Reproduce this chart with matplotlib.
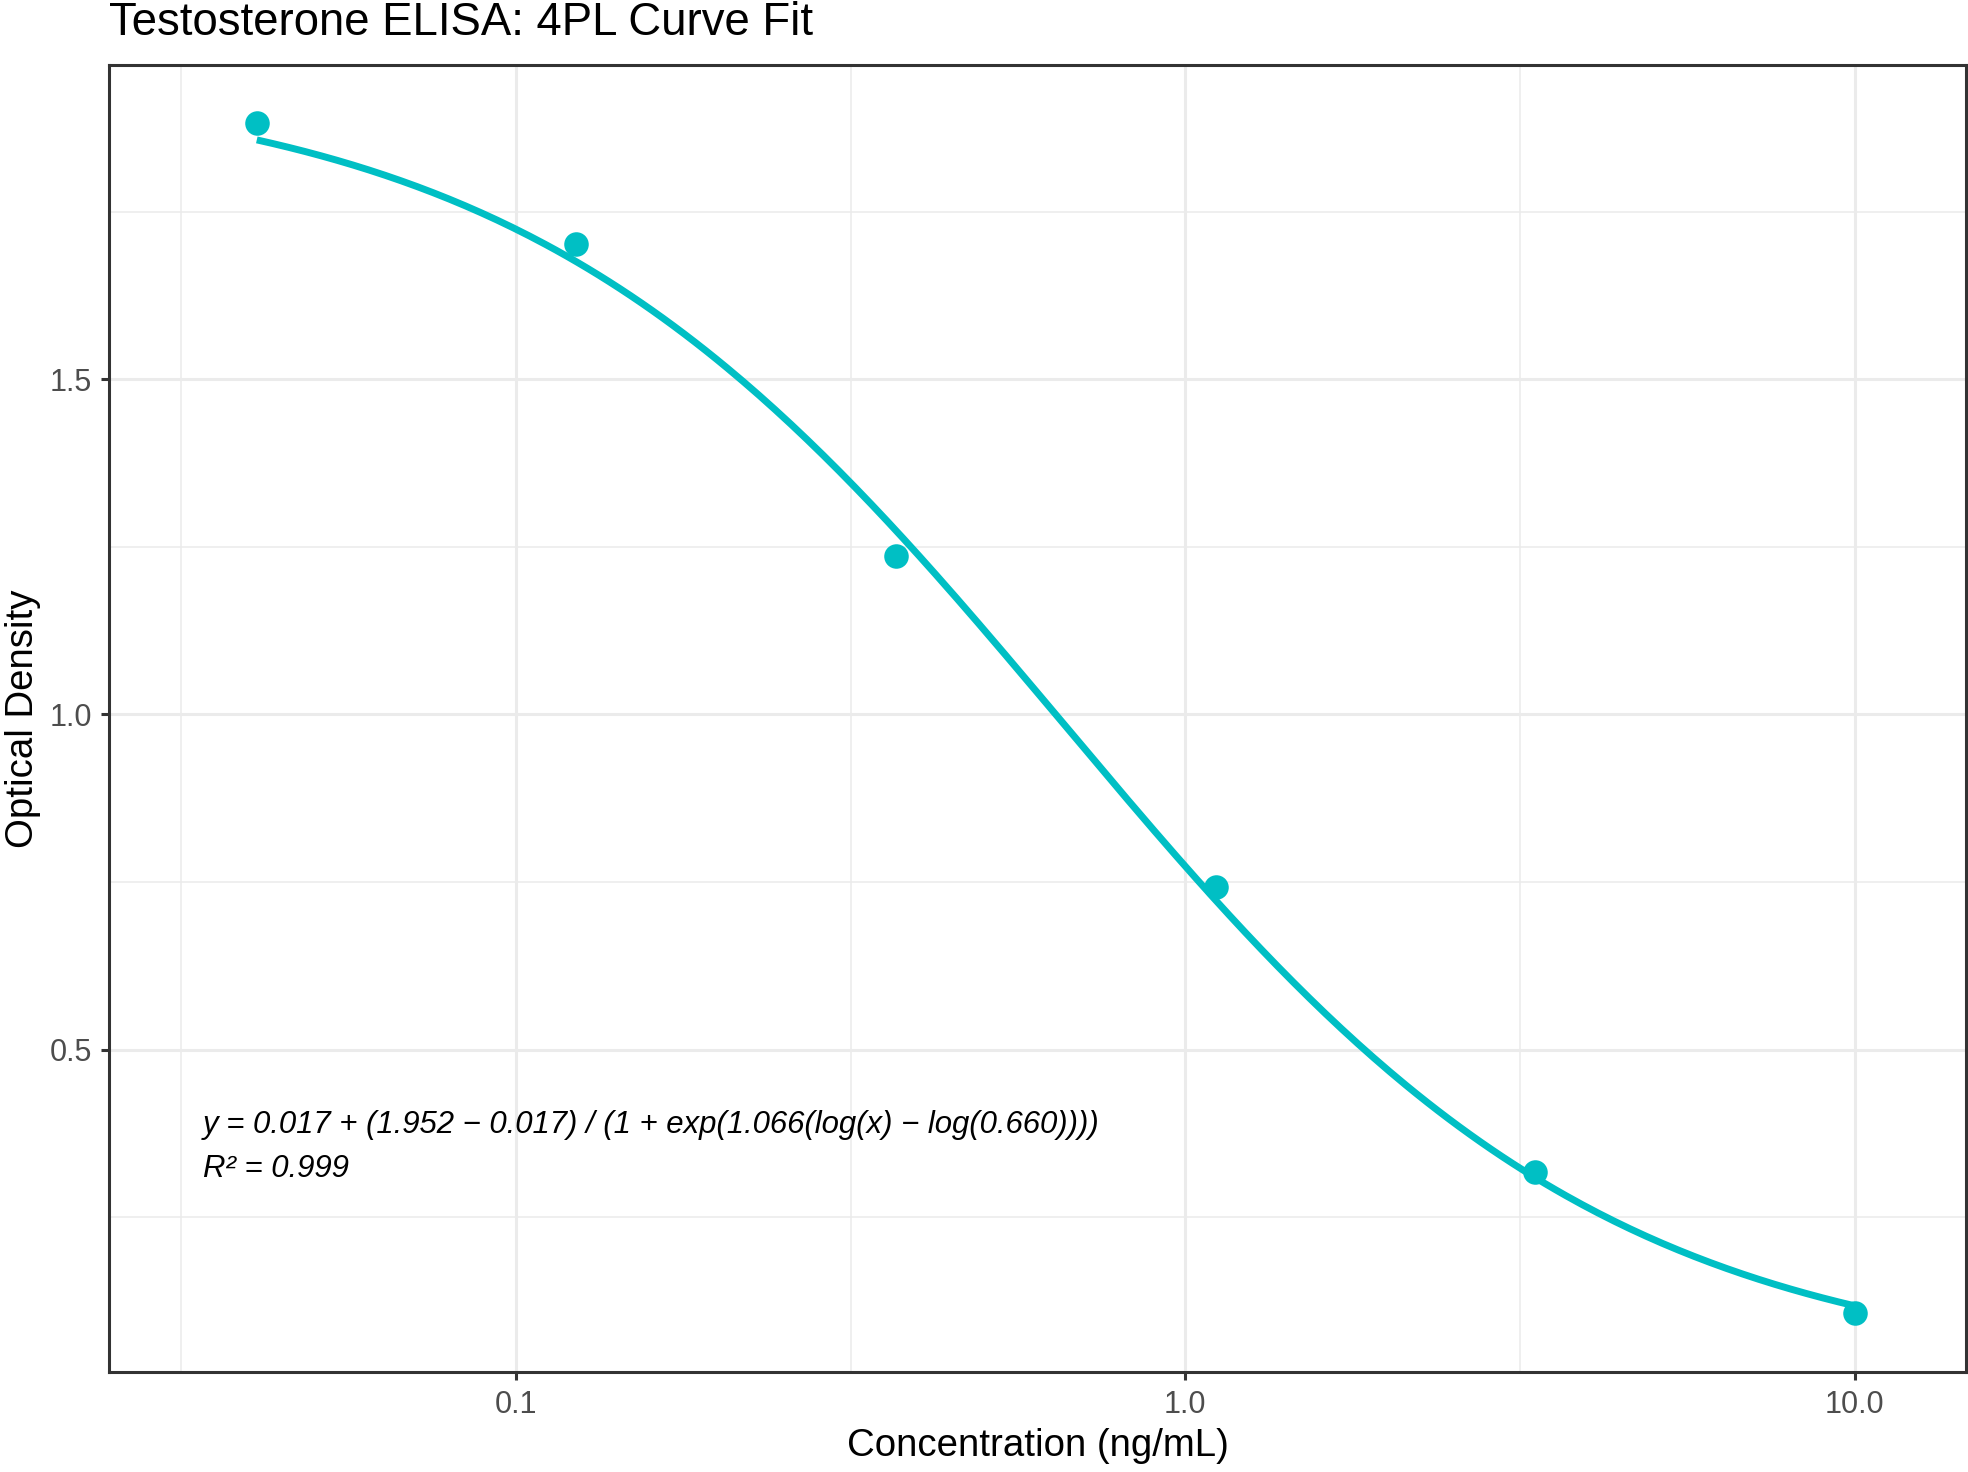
import numpy as np
import matplotlib
matplotlib.use("Agg")
import matplotlib.pyplot as plt

plt.rcParams['font.family'] = ['Liberation Sans', 'DejaVu Sans']

# Standards
concentration = [0.041, 0.123, 0.370, 1.111, 3.333, 10.0]
optical_density = [1.882, 1.702, 1.236, 0.742, 0.318, 0.107]

# 4PL fit parameters as printed in the chart annotation
fit_bottom = 0.017
fit_top = 1.952
fit_slope = 1.066
fit_ec50 = 0.660
r_squared = 0.999

title = "Testosterone ELISA: 4PL Curve Fit"
xlabel = "Concentration (ng/mL)"
ylabel = "Optical Density"
xticks = [0.1, 1.0, 10.0]
xticklabels = ["0.1", "1.0", "10.0"]
yticks = [0.5, 1.0, 1.5]
yticklabels = ["0.5", "1.0", "1.5"]

color = "#00BFC4"

fig = plt.figure(figsize=(9.84, 7.36), dpi=200)
ax = fig.add_axes([0.0554, 0.0676, 0.999 - 0.0554, 0.9556 - 0.0676])

# fitted curve over the standards range
xs = np.logspace(np.log10(min(concentration)), np.log10(max(concentration)), 300)
ys = fit_bottom + (fit_top - fit_bottom) / (1 + np.exp(fit_slope * (np.log(xs) - np.log(fit_ec50))))

ax.set_xscale('log')
ax.set_xlim(10 ** -1.608, 10 ** 1.1666)
ax.set_ylim(0.0187, 1.968)

# grid
minor_x = [10 ** -1.5, 10 ** -0.5, 10 ** 0.5]
minor_y = [0.25, 0.75, 1.25, 1.75]
for v in minor_x:
    ax.axvline(v, color="#EBEBEB", lw=0.55, zorder=0)
for v in minor_y:
    ax.axhline(v, color="#EBEBEB", lw=0.55, zorder=0)
for v in xticks:
    ax.axvline(v, color="#EBEBEB", lw=1.1, zorder=0)
for v in yticks:
    ax.axhline(v, color="#EBEBEB", lw=1.1, zorder=0)

ax.plot(xs, ys, color=color, lw=2.5, zorder=2, solid_capstyle='butt')
ax.scatter(concentration, optical_density, s=78, color=color, zorder=3, linewidths=0)

ax.set_xticks(xticks)
ax.set_xticklabels(xticklabels)
ax.xaxis.set_minor_locator(matplotlib.ticker.NullLocator())
ax.set_yticks(yticks)
ax.set_yticklabels(yticklabels)

ax.tick_params(axis='both', which='major', length=3.0, width=1.1, color="#333333",
               labelcolor="#4D4D4D", labelsize=11, pad=3.2)
for s in ax.spines.values():
    s.set_color("#333333")
    s.set_linewidth(1.1)

ax.set_xlabel(xlabel, fontsize=13.8, color="black", labelpad=3)
ax.set_ylabel(ylabel, fontsize=13.8, color="black", labelpad=3)

ax.text(10 ** -1.4676, 0.355,
        "y = %.3f + (%.3f \u2212 %.3f) / (1 + exp(%.3f(log(x) \u2212 log(%.3f))))\nR\u00b2 = %.3f"
        % (fit_bottom, fit_top, fit_bottom, fit_slope, fit_ec50, r_squared),
        ha='left', va='center', fontsize=11.2, style='italic', color='black',
        linespacing=1.62, zorder=4)

fig.text(0.0554, 0.9995, title, ha='left', va='top', fontsize=16.4, color='black')

fig.savefig("out.png", dpi=200)
